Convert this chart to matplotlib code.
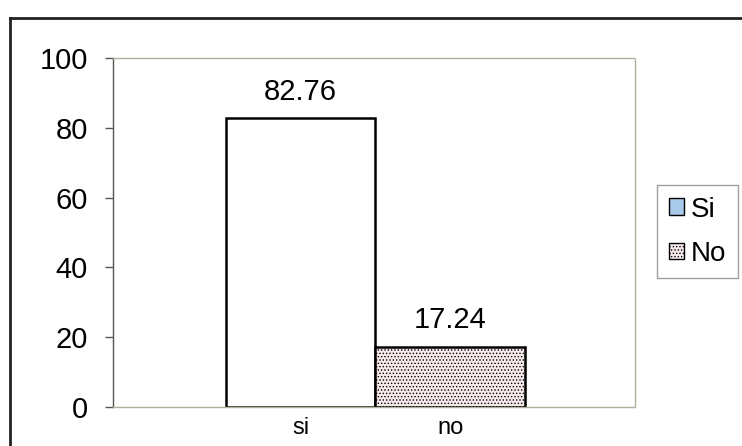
#!/usr/bin/env python3
"""Bar chart: si / no percentages with a side legend (Excel style)."""

import matplotlib
matplotlib.use("Agg")
import matplotlib.pyplot as plt
from matplotlib.patches import Patch
from matplotlib.lines import Line2D

# Data
categories = ['si', 'no']
values = [82.76, 17.24]
legend_labels = ['Si', 'No']
y_ticks = [0, 20, 40, 60, 80, 100]

plt.rcParams['font.family'] = ['Liberation Sans', 'DejaVu Sans']
plt.rcParams['hatch.color'] = '#e6c4c4'
plt.rcParams['hatch.linewidth'] = 0.6

W, H = 742, 446
fig = plt.figure(figsize=(W / 100, H / 100), dpi=100)
fig.patch.set_facecolor('white')

# plot area in pixel coordinates
left, right, top, bottom = 113, 635, 58, 407
ax = fig.add_axes([left / W, 1 - bottom / H, (right - left) / W, (bottom - top) / H])

x = list(range(len(categories)))
bars = ax.bar(x, values, width=1.0, edgecolor='black', linewidth=1.8)
bars[0].set_facecolor('white')
bars[1].set_facecolor('#f8eaea')
bars[1].set_hatch('.....')

for xi, v in zip(x, values):
    ax.annotate(f'{v:.2f}', (xi, v), xytext=(0, 9), textcoords='offset points',
                ha='center', va='bottom', fontsize=21)

ax.set_xlim(-1.253, 2.233)
ax.set_ylim(0, 100)
ax.set_yticks(y_ticks)
ax.set_xticks(x)
ax.set_xticklabels(categories, fontsize=17)
ax.tick_params(axis='x', length=0, pad=7)
ax.tick_params(axis='y', labelsize=21, length=6, width=1, color='#555555', pad=12)

for s in ['top', 'right', 'bottom']:
    ax.spines[s].set_color('#b0b0a0')
    ax.spines[s].set_linestyle((0, (1, 1)))
    ax.spines[s].set_linewidth(1)
ax.spines['left'].set_color('#555555')
ax.spines['left'].set_linewidth(1)

# legend
handles = [Patch(facecolor='#a9c9ea', edgecolor='black', linewidth=1),
           Patch(facecolor='#f8eaea', edgecolor='black', linewidth=1, hatch='.....')]
fig.legend(handles, legend_labels, loc='upper left',
           bbox_to_anchor=(657 / W, 1 - 185 / H), fontsize=20,
           frameon=True, fancybox=False, edgecolor='#888888',
           handlelength=0.55, handleheight=0.55, handletextpad=0.25,
           borderpad=0.42, labelspacing=0.65, borderaxespad=0)

# outer chart border (top and left visible)
fig.add_artist(Line2D([10 / W, 10 / W], [0, 1 - 18 / H], transform=fig.transFigure,
                      color='#222222', linewidth=2))
fig.add_artist(Line2D([10 / W, 1], [1 - 18 / H, 1 - 18 / H], transform=fig.transFigure,
                      color='#222222', linewidth=2))

fig.savefig('out.png', dpi=100, facecolor='white')
plt.close(fig)
